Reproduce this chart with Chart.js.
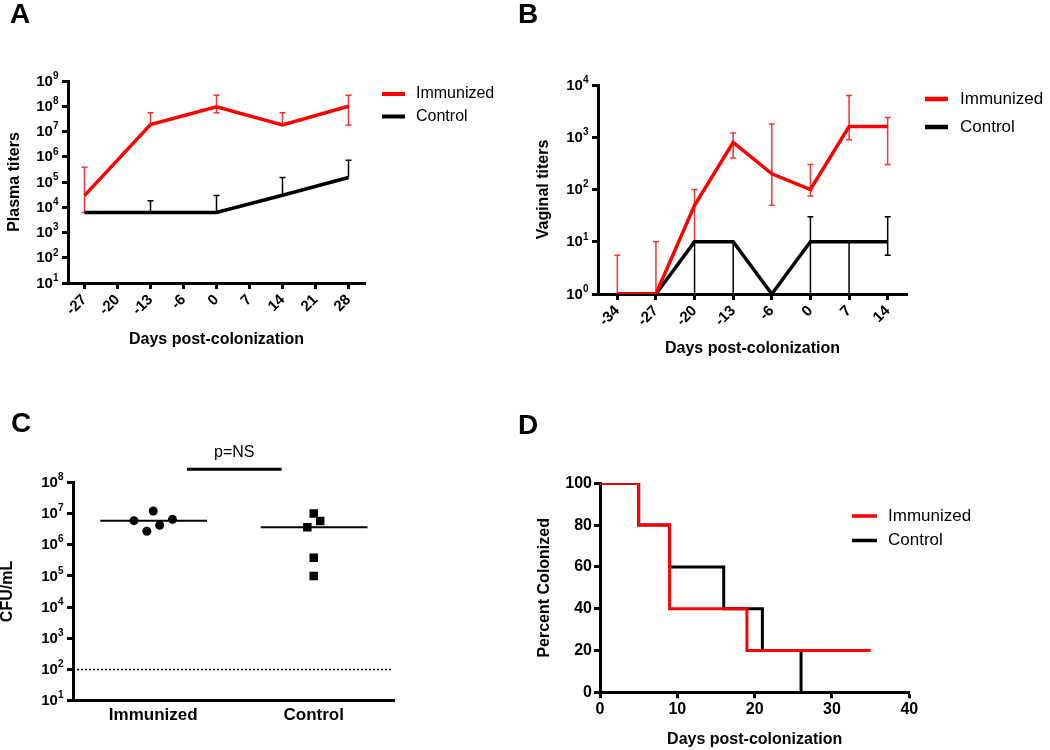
<!DOCTYPE html>
<html>
<head>
<meta charset="utf-8">
<script src="https://cdn.jsdelivr.net/npm/chart.js@4.4.0/dist/chart.umd.min.js"></script>
<style>
  body { margin: 0; background: #fff; width: 1050px; height: 750px; position: relative; overflow: hidden; font-family: "Liberation Sans", Arial, sans-serif; }
  .panel { position: absolute; width: 525px; height: 375px; }
  .tag { position: absolute; font-weight: bold; font-size: 28px; line-height: 28px; }
</style>
</head>
<body>
<div class="panel" style="left:0;top:0"><canvas id="chartA" width="525" height="375"></canvas></div>
<div class="panel" style="left:525px;top:0"><canvas id="chartB" width="525" height="375"></canvas></div>
<div class="panel" style="left:0;top:375px"><canvas id="chartC" width="525" height="375"></canvas></div>
<div class="panel" style="left:525px;top:375px"><canvas id="chartD" width="525" height="375"></canvas></div>
<div class="tag" style="left:10px;top:0">A</div>
<div class="tag" style="left:518px;top:0">B</div>
<div class="tag" style="left:11px;top:409px">C</div>
<div class="tag" style="left:518px;top:411px">D</div>

<script>
// A - plasma titers
const daysA = ['-27', '-20', '-13', '-6', '0', '7', '14', '21', '28'];
const plasmaImm   = [2.9e4, null, 1.9e7, null, 9.5e7, null, 1.8e7, null, 1.0e8];
const plasmaImmHi = [3.8e5, null, 5.5e7, null, 2.7e8, null, 5.5e7, null, 2.7e8];
const plasmaImmLo = [6.2e3, null, null, null, 5.5e7, null, null, null, 1.8e7];
const plasmaCtl   = [6.2e3, null, 6.2e3, null, 6.2e3, null, 3.0e4, null, 1.5e5];
const plasmaCtlHi = [null, null, 1.8e4, null, 2.9e4, null, 1.5e5, null, 7.2e5];

// B - vaginal titers
const daysB = ['-34', '-27', '-20', '-13', '-6', '0', '7', '14'];
const vagImm   = [1, 1, 50, 800, 200, 100, 1600, 1600];
const vagImmHi = [5.5, 10, 100, 1200, 1800, 300, 6300, 2400];
const vagImmLo = [null, null, 10, 400, 50, 75, 900, 300];
const vagCtl   = [1, 1, 10, 10, 1, 10, 10, 10];
const vagCtlHi = [null, null, null, null, null, 30, null, 30];
const vagCtlLo = [null, null, 1, 1, null, 1, 1, 5.5];

// C - CFU/mL per animal
const groupsC = ['Immunized', 'Control'];
const cfuImm = [5.9e6, 1.2e7, 4.2e6, 6.5e6, 2.7e6];
const jitterImm = [-0.12, 0.0, 0.04, 0.12, -0.04];
const cfuCtl = [1.0e7, 5.7e6, 3.6e6, 3.8e5, 1.0e5];
const jitterCtl = [0.0, 0.04, -0.04, 0.0, 0.0];
const detectionLimit = 100;
const sigText = 'p=NS';

// D - percent colonized (Kaplan-Meier steps)
const kmImmDays = [0, 5, 9, 19, 35];
const kmImmPct  = [100, 80, 40, 20, 20];
const kmCtlDays = [0, 5, 9, 16, 21, 26];
const kmCtlPct  = [100, 80, 60, 40, 20, 0];

const RED = '#ff0000';
const ERR_RED = '#ff3030';
const FONT = '"Liberation Sans", Arial, sans-serif';
Chart.defaults.font.family = FONT;
Chart.defaults.color = '#000';

function median(arr) {
  const s = arr.slice().sort((a, b) => a - b);
  const m = s.length >> 1;
  return s.length % 2 ? s[m] : (s[m - 1] + s[m]) / 2;
}

// error bars, drawn under the lines
const errorBars = {
  id: 'errorBars',
  beforeDatasetsDraw(chart) {
    const ctx = chart.ctx, ys = chart.scales.y;
    chart.data.datasets.forEach((ds, i) => {
      if (!ds.errHi && !ds.errLo) return;
      const meta = chart.getDatasetMeta(i);
      ctx.save();
      ctx.strokeStyle = ds.errColor;
      ctx.lineWidth = 1.5;
      meta.data.forEach((pt, j) => {
        [ds.errHi, ds.errLo].forEach(arr => {
          if (!arr || arr[j] == null) return;
          const ye = ys.getPixelForValue(arr[j]);
          ctx.beginPath();
          ctx.moveTo(pt.x, pt.y);
          ctx.lineTo(pt.x, ye);
          ctx.moveTo(pt.x - 3, ye);
          ctx.lineTo(pt.x + 3, ye);
          ctx.stroke();
        });
      });
      ctx.restore();
    });
  }
};

// "10" with a raised exponent for each log tick
const powLabels = {
  id: 'powLabels',
  afterDraw(chart) {
    const ctx = chart.ctx, s = chart.scales.y;
    if (s.type !== 'logarithmic') return;
    const xr = s.right - 9.5;
    ctx.save();
    ctx.fillStyle = '#000';
    ctx.textBaseline = 'middle';
    s.ticks.forEach(t => {
      const y = s.getPixelForValue(t.value);
      const e = String(Math.round(Math.log10(t.value)));
      ctx.font = 'bold 10px ' + FONT;
      const ew = ctx.measureText(e).width;
      ctx.textAlign = 'left';
      ctx.fillText(e, xr - ew, y - 5);
      ctx.font = 'bold 15px ' + FONT;
      ctx.textAlign = 'right';
      ctx.fillText('10', xr - ew, y + 0.5);
    });
    ctx.restore();
  }
};

// legend with line swatches at a fixed spot
const sideLegend = {
  id: 'sideLegend',
  afterDraw(chart, args, opts) {
    if (opts.x == null) return;
    const ctx = chart.ctx;
    ctx.save();
    ctx.font = opts.font;
    ctx.textBaseline = 'middle';
    chart.data.datasets.filter(d => d.label).forEach((ds, i) => {
      const y = opts.y + i * opts.gap;
      ctx.strokeStyle = ds.borderColor;
      ctx.lineWidth = opts.lineWidth;
      ctx.beginPath();
      ctx.moveTo(opts.x, y);
      ctx.lineTo(opts.x + opts.len, y);
      ctx.stroke();
      ctx.fillStyle = '#000';
      ctx.fillText(ds.label, opts.x + opts.len + opts.pad, y);
    });
    ctx.restore();
  }
};

// significance bar above panel C
const sigBar = {
  id: 'sigBar',
  afterDraw(chart) {
    const ctx = chart.ctx, xs = chart.scales.x;
    const x1 = xs.getPixelForValue(0.21), x2 = xs.getPixelForValue(0.80);
    const y = chart.chartArea.top - 13;
    ctx.save();
    ctx.strokeStyle = '#000';
    ctx.lineWidth = 3;
    ctx.beginPath();
    ctx.moveTo(x1, y);
    ctx.lineTo(x2, y);
    ctx.stroke();
    ctx.font = '16px ' + FONT;
    ctx.textAlign = 'center';
    ctx.textBaseline = 'middle';
    ctx.fillStyle = '#000';
    ctx.fillText(sigText, (x1 + x2) / 2, y - 17);
    ctx.restore();
  }
};

function gridOpts(ticks) {
  return { display: true, drawOnChartArea: false, drawTicks: ticks, tickLength: 6, tickWidth: 3, tickColor: '#000', offset: false };
}
const borderOpts = { display: true, width: 3, color: '#000' };
function titleOpts(text, pad, bottom) {
  return { display: true, text: text, font: { size: 16, weight: 'bold', lineHeight: 1 },
           padding: bottom ? { top: 0, bottom: 0 } : { top: pad, bottom: 0 } };
}
function logY(min, max, width, title, titlePad) {
  return {
    type: 'logarithmic', min: min, max: max,
    grid: gridOpts(true), border: borderOpts,
    ticks: { display: false, autoSkip: false },
    afterBuildTicks: s => {
      const t = [];
      for (let e = Math.round(Math.log10(min)); e <= Math.round(Math.log10(max)); e++) t.push({ value: Math.pow(10, e) });
      s.ticks = t;
    },
    afterFit: s => { s.width = width; },
    title: titleOpts(title, titlePad)
  };
}
function catX(height, title) {
  return {
    type: 'category', offset: true,
    grid: gridOpts(true), border: borderOpts,
    ticks: { font: { size: 15, weight: 'bold' }, minRotation: 45, maxRotation: 45, padding: 2, autoSkip: false },
    afterFit: s => { s.height = height; },
    title: titleOpts(title, 0, true)
  };
}
const lineStyle = { pointRadius: 0, borderWidth: 3.5, tension: 0, spanGaps: true, fill: false };

// Panel A
new Chart(document.getElementById('chartA'), {
  type: 'line',
  data: {
    labels: daysA,
    datasets: [
      Object.assign({ label: 'Immunized', data: plasmaImm, borderColor: RED, errHi: plasmaImmHi, errLo: plasmaImmLo, errColor: ERR_RED }, lineStyle),
      Object.assign({ label: 'Control', data: plasmaCtl, borderColor: '#000', errHi: plasmaCtlHi, errLo: null, errColor: '#000' }, lineStyle)
    ]
  },
  options: {
    responsive: false, animation: false,
    layout: { padding: { left: 0, top: 81, right: 160, bottom: 27 } },
    plugins: {
      legend: { display: false }, tooltip: { enabled: false },
      sideLegend: { x: 382, y: 94, gap: 22.5, len: 23, pad: 11, lineWidth: 4, font: '16px ' + FONT }
    },
    scales: {
      x: catX(65, 'Days post-colonization'),
      y: logY(10, 1e9, 68, 'Plasma titers', 7)
    }
  },
  plugins: [errorBars, powLabels, sideLegend]
});

// Panel B
new Chart(document.getElementById('chartB'), {
  type: 'line',
  data: {
    labels: daysB,
    datasets: [
      Object.assign({ label: 'Immunized', data: vagImm, borderColor: RED, errHi: vagImmHi, errLo: vagImmLo, errColor: ERR_RED }, lineStyle),
      Object.assign({ label: 'Control', data: vagCtl, borderColor: '#000', errHi: vagCtlHi, errLo: vagCtlLo, errColor: '#000' }, lineStyle)
    ]
  },
  options: {
    responsive: false, animation: false,
    layout: { padding: { left: 0, top: 85, right: 143, bottom: 18.7 } },
    plugins: {
      legend: { display: false }, tooltip: { enabled: false },
      sideLegend: { x: 400, y: 99, gap: 28, len: 23, pad: 12, lineWidth: 4.5, font: '17px ' + FONT }
    },
    scales: {
      x: catX(62.3, 'Days post-colonization'),
      y: logY(1, 1e4, 73, 'Vaginal titers', 11)
    }
  },
  plugins: [errorBars, powLabels, sideLegend]
});

// Panel C
const medImm = median(cfuImm), medCtl = median(cfuCtl);
new Chart(document.getElementById('chartC'), {
  type: 'scatter',
  data: {
    datasets: [
      { data: cfuImm.map((v, i) => ({ x: 0 + jitterImm[i], y: v })), pointStyle: 'circle', pointRadius: 4.5, backgroundColor: '#000', borderWidth: 0 },
      { data: cfuCtl.map((v, i) => ({ x: 1 + jitterCtl[i], y: v })), pointStyle: 'rect', pointRadius: 6, backgroundColor: '#000', borderWidth: 0 },
      { data: [{ x: -0.33, y: medImm }, { x: 0.335, y: medImm }], showLine: true, borderColor: '#000', borderWidth: 2, pointRadius: 0 },
      { data: [{ x: 0.67, y: medCtl }, { x: 1.335, y: medCtl }], showLine: true, borderColor: '#000', borderWidth: 2, pointRadius: 0 },
      { data: [{ x: -0.5, y: detectionLimit }, { x: 1.49, y: detectionLimit }], showLine: true, borderColor: '#000', borderWidth: 1.5, borderDash: [2, 2], pointRadius: 0 }
    ]
  },
  options: {
    responsive: false, animation: false,
    layout: { padding: { left: 0, top: 107.3, right: 131, bottom: 9.3 } },
    plugins: { legend: { display: false }, tooltip: { enabled: false } },
    scales: {
      x: {
        type: 'linear', min: -0.5, max: 1.5,
        grid: gridOpts(false), border: borderOpts,
        ticks: { font: { size: 17, weight: 'bold' }, padding: 4, autoSkip: false, maxRotation: 0, callback: (v, i) => groupsC[i] },
        afterBuildTicks: s => { s.ticks = groupsC.map((g, i) => ({ value: i })); },
        afterFit: s => { s.height = 40; }
      },
      y: logY(10, 1e8, 73, 'CFU/mL', 0)
    }
  },
  plugins: [powLabels, sigBar]
});

// Panel D
new Chart(document.getElementById('chartD'), {
  type: 'line',
  data: {
    datasets: [
      { label: 'Immunized', data: kmImmDays.map((d, i) => ({ x: d, y: kmImmPct[i] })), borderColor: RED, borderWidth: 3, pointRadius: 0, stepped: 'before' },
      { label: 'Control', data: kmCtlDays.map((d, i) => ({ x: d, y: kmCtlPct[i] })), borderColor: '#000', borderWidth: 3, pointRadius: 0, stepped: 'before' }
    ]
  },
  options: {
    responsive: false, animation: false,
    layout: { padding: { left: 0, top: 108.3, right: 140.7, bottom: 2 } },
    plugins: {
      legend: { display: false }, tooltip: { enabled: false },
      sideLegend: { x: 327, y: 141, gap: 24.5, len: 25, pad: 11, lineWidth: 3.5, font: '17px ' + FONT }
    },
    scales: {
      x: {
        type: 'linear', min: 0, max: 40,
        grid: gridOpts(true), border: borderOpts,
        ticks: { font: { size: 16, weight: 'bold' }, stepSize: 10, padding: 2, maxRotation: 0 },
        afterFit: s => { s.height = 55.7; },
        title: titleOpts('Days post-colonization', 0, true)
      },
      y: {
        type: 'linear', min: 0, max: 100,
        grid: gridOpts(true), border: borderOpts,
        ticks: { font: { size: 16, weight: 'bold' }, stepSize: 20, padding: 2 },
        afterFit: s => { s.width = 75; },
        title: titleOpts('Percent Colonized', 12)
      }
    }
  },
  plugins: [sideLegend]
});
</script>
</body>
</html>
